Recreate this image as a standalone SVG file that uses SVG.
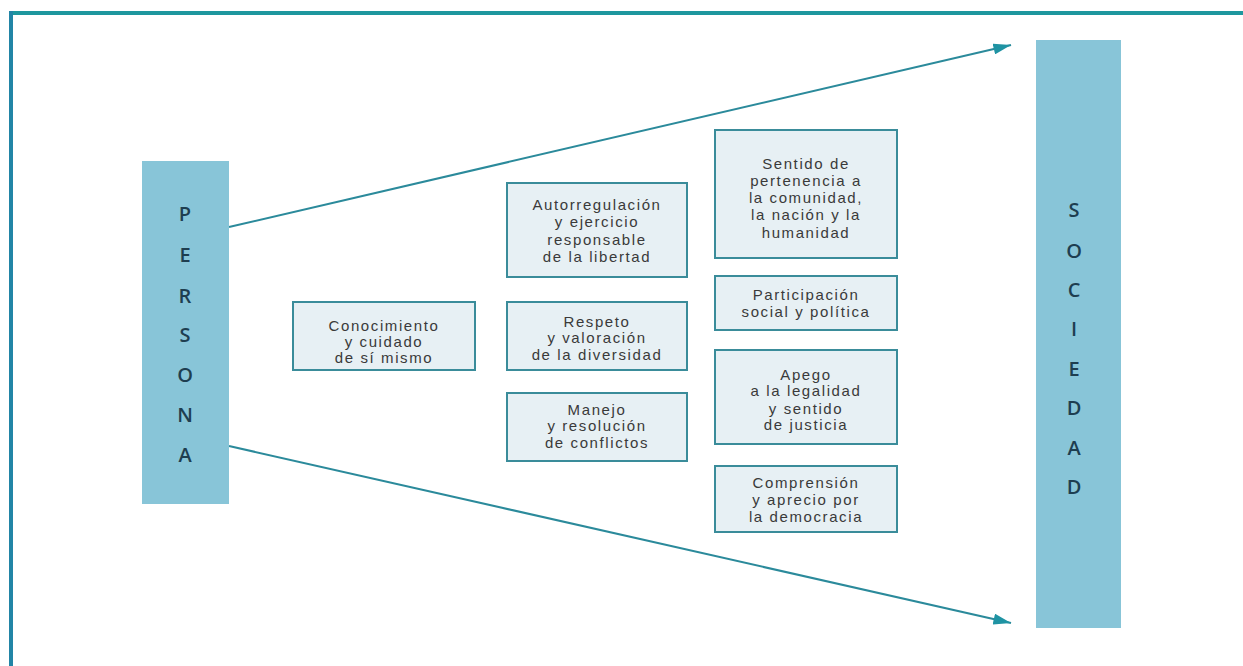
<svg xmlns="http://www.w3.org/2000/svg" width="1243" height="666" viewBox="0 0 1243 666">
<defs>
<style>
.bar{fill:#88C5D8;}
.letter{font-family:"Open Sans","Liberation Sans",sans-serif;font-size:20px;font-weight:600;fill:#1E3E50;text-anchor:middle;dominant-baseline:central;}
.box{fill:#E7F0F4;stroke:#3A8C9A;stroke-width:2;}
.lbl{font-family:"Liberation Sans",Arial,sans-serif;font-size:15px;letter-spacing:1.6px;fill:#3A3A3A;text-anchor:middle;dominant-baseline:central;}
.conn{stroke:#2B8A9B;stroke-width:2;fill:none;}
</style>
<marker id="arrow" viewBox="0 0 16 10" refX="16" refY="5" markerWidth="18" markerHeight="11" markerUnits="userSpaceOnUse" orient="auto">
<path d="M0,0 L16,5 L0,10 Z" fill="#1F93A3"/>
</marker>
</defs>
<rect x="0" y="0" width="1243" height="666" fill="#FFFFFF"/>
<g id="frame">
<rect x="9" y="11" width="1234" height="4" fill="#1E979E"/>
<rect x="9" y="11" width="4" height="655" fill="#2285A6"/>
</g>
<g id="connectors">
<line class="conn" x1="229" y1="227" x2="1011" y2="45" marker-end="url(#arrow)"/>
<line class="conn" x1="229" y1="446" x2="1011" y2="623" marker-end="url(#arrow)"/>
</g>
<g id="persona">
<rect class="bar" x="142" y="161" width="87" height="343"/>
<text class="letter" x="185" y="213">P</text>
<text class="letter" x="185" y="254">E</text>
<text class="letter" x="185" y="295">R</text>
<text class="letter" x="185" y="334">S</text>
<text class="letter" x="185" y="374">O</text>
<text class="letter" x="185" y="414">N</text>
<text class="letter" x="185" y="454">A</text>
</g>
<g id="sociedad">
<rect class="bar" x="1036" y="40" width="85" height="588"/>
<text class="letter" x="1074" y="209">S</text>
<text class="letter" x="1074" y="250">O</text>
<text class="letter" x="1074" y="289">C</text>
<text class="letter" x="1074" y="328">I</text>
<text class="letter" x="1074" y="368">E</text>
<text class="letter" x="1074" y="407">D</text>
<text class="letter" x="1074" y="447">A</text>
<text class="letter" x="1074" y="486">D</text>
</g>
<g id="conocimiento">
<rect class="box" x="293" y="302" width="182" height="68"/>
<text class="lbl" x="384" y="325">Conocimiento</text>
<text class="lbl" x="384" y="341">y cuidado</text>
<text class="lbl" x="384" y="357">de sí mismo</text>
</g>
<g id="autorregulacion">
<rect class="box" x="507" y="183" width="180" height="94"/>
<text class="lbl" x="597" y="204">Autorregulación</text>
<text class="lbl" x="597" y="221">y ejercicio</text>
<text class="lbl" x="597" y="239">responsable</text>
<text class="lbl" x="597" y="256">de la libertad</text>
</g>
<g id="respeto">
<rect class="box" x="507" y="302" width="180" height="68"/>
<text class="lbl" x="597" y="321">Respeto</text>
<text class="lbl" x="597" y="337">y valoración</text>
<text class="lbl" x="597" y="354">de la diversidad</text>
</g>
<g id="manejo">
<rect class="box" x="507" y="393" width="180" height="68"/>
<text class="lbl" x="597" y="409">Manejo</text>
<text class="lbl" x="597" y="425">y resolución</text>
<text class="lbl" x="597" y="442">de conflictos</text>
</g>
<g id="sentido">
<rect class="box" x="715" y="130" width="182" height="128"/>
<text class="lbl" x="806" y="163">Sentido de</text>
<text class="lbl" x="806" y="180">pertenencia a</text>
<text class="lbl" x="806" y="197">la comunidad,</text>
<text class="lbl" x="806" y="214">la nación y la</text>
<text class="lbl" x="806" y="232">humanidad</text>
</g>
<g id="participacion">
<rect class="box" x="715" y="276" width="182" height="54"/>
<text class="lbl" x="806" y="294">Participación</text>
<text class="lbl" x="806" y="311">social y política</text>
</g>
<g id="apego">
<rect class="box" x="715" y="350" width="182" height="94"/>
<text class="lbl" x="806" y="374">Apego</text>
<text class="lbl" x="806" y="390">a la legalidad</text>
<text class="lbl" x="806" y="408">y sentido</text>
<text class="lbl" x="806" y="424">de justicia</text>
</g>
<g id="comprension">
<rect class="box" x="715" y="466" width="182" height="66"/>
<text class="lbl" x="806" y="482">Comprensión</text>
<text class="lbl" x="806" y="499">y aprecio por</text>
<text class="lbl" x="806" y="516">la democracia</text>
</g>
</svg>
